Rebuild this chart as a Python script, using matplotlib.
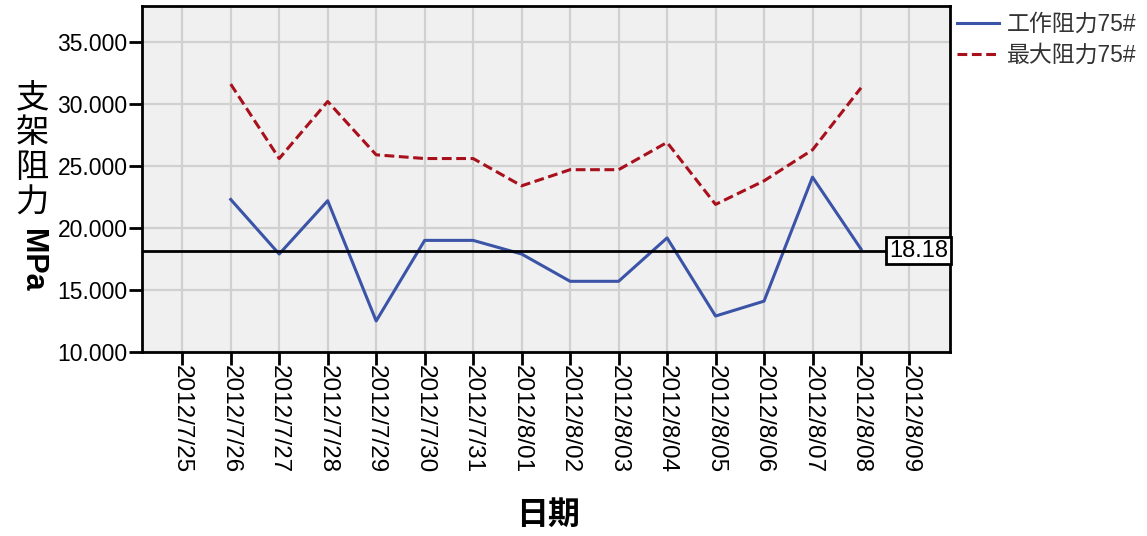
import numpy as np
import matplotlib
matplotlib.use("Agg")
import matplotlib.pyplot as plt

plt.rcParams['font.family'] = ['Liberation Sans', 'Noto Sans CJK SC', 'DejaVu Sans']

# --- data ---
dates = ['2012/7/25', '2012/7/26', '2012/7/27', '2012/7/28', '2012/7/29',
         '2012/7/30', '2012/7/31', '2012/8/01', '2012/8/02', '2012/8/03',
         '2012/8/04', '2012/8/05', '2012/8/06', '2012/8/07', '2012/8/08',
         '2012/8/09']
work_res = [np.nan, 22.3, 17.9, 22.2, 12.5, 19.0, 19.0, 17.9, 15.7, 15.7,
            19.2, 12.9, 14.1, 24.1, 18.3, np.nan]
max_res = [np.nan, 31.6, 25.6, 30.2, 25.9, 25.6, 25.6, 23.4, 24.7, 24.7,
           26.9, 21.9, 23.8, 26.3, 31.3, np.nan]
ref_value = 18.18
y_ticks = [10, 15, 20, 25, 30, 35]

fig = plt.figure(figsize=(11.47, 5.36), dpi=100)
ax = fig.add_axes([0.1238, 0.3433, 0.7042, 0.6455])
ax.set_facecolor('#f0f0f0')

x = np.arange(len(dates))
ax.plot(x, work_res, color='#3b54a8', lw=2.2, label='工作阻力75#')
ax.plot(x, max_res, color='#a8101c', lw=2.2, ls=(0, (3.2, 1.5)), label='最大阻力75#')
ax.axhline(ref_value, color='black', lw=2, zorder=3)

ax.set_xlim(-0.83, len(dates) - 1 + 0.83)
ax.set_ylim(10, 37.9)
ax.set_xticks(x)
ax.set_xticklabels(dates, rotation=270, fontsize=17.5, va='top', ha='center')
ax.set_yticks(y_ticks)
ax.set_yticklabels([f'{v:.3f}' for v in y_ticks], fontsize=16.5)
ax.tick_params(axis='both', length=9.5, width=2, color='black')
ax.tick_params(axis='x', pad=0)
ax.tick_params(axis='y', pad=1)
ax.grid(True, color='#d0d0d0', lw=1.6)
ax.set_axisbelow(True)
for s in ax.spines.values():
    s.set_linewidth(2)

# label for the reference line
ax.text(len(dates) - 1 + 0.8, ref_value, f'{ref_value:.2f}', ha='right', va='center',
        fontsize=17, zorder=4,
        bbox=dict(boxstyle='square,pad=0.12', fc='white', ec='black', lw=2))

# y label: upright CJK characters then rotated MPa
fig.text(0.028, 0.85, '支\n架\n阻\n力', fontsize=24, ha='center', va='top',
         linespacing=1.0, family=['Noto Sans CJK SC'])
fig.text(0.028, 0.572, 'MPa', fontsize=22, fontweight='bold', rotation=270,
         ha='center', va='top')

fig.text(0.478, 0.04, '日期', fontsize=23, fontweight='bold', ha='center', va='center',
         family=['Noto Sans CJK SC'])

leg = ax.legend(loc='upper left', bbox_to_anchor=(1.0, 1.0), frameon=False,
                fontsize=16.5, handlelength=1.85, handletextpad=0.35,
                labelspacing=0.35, borderpad=0.0, borderaxespad=0.3)
for t in leg.get_texts():
    t.set_color('#333333')

fig.savefig('out.png', dpi=100)
